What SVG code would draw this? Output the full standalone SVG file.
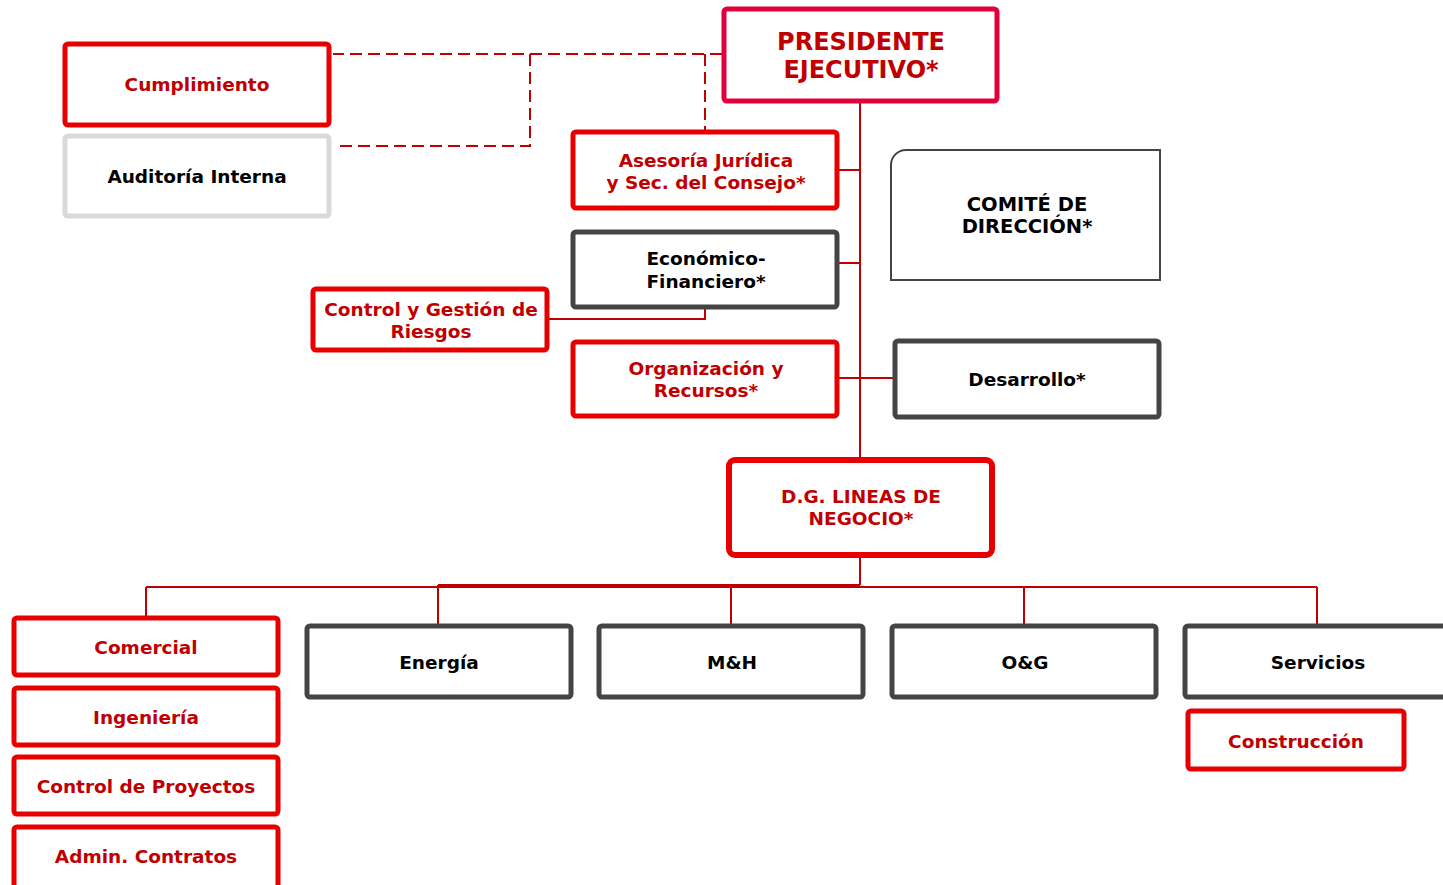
<svg xmlns="http://www.w3.org/2000/svg" width="1443" height="885" viewBox="0 0 1443 885">
  <style>
    .red { fill: #fff; stroke: #e60000; stroke-width: 5; }
    .gray { fill: #fff; stroke: #444; stroke-width: 5; }
    .light { fill: #fff; stroke: #d9d9d9; stroke-width: 5; }
    .thin { fill: #fff; stroke: #444; stroke-width: 2; }
    .t { font-family: "DejaVu Sans", Verdana, sans-serif; font-weight: bold; font-size: 18.5px; text-anchor: middle; }
    .tr { fill: #c00000; }
    .tk { fill: #000; }
    .big { font-size: 24px; }
    .mid { font-size: 19.5px; }
    .conn { fill: none; stroke: #c00000; stroke-width: 2; }
    .dash { fill: none; stroke: #c00000; stroke-width: 2; stroke-dasharray: 12 6; }
  </style>

  <rect width="1443" height="885" fill="#fff"/>

  <g id="connectors">
    <!-- dotted reporting lines -->
    <path class="dash" d="M722 54 H333"/>
    <path class="dash" d="M530 54 V146 H338"/>
    <path class="dash" d="M705 54 V130"/>
    <!-- main spine -->
    <path class="conn" d="M860 103 V457"/>
    <path class="conn" d="M839 170 H860"/>
    <path class="conn" d="M839 263 H860"/>
    <path class="conn" d="M839 378 H893"/>
    <path class="conn" d="M549 319 H705 V309"/>
    <!-- business lines bus -->
    <path class="conn" d="M860 557 V585"/>
    <path class="conn" d="M146 587 H1317"/>
    <path class="conn" d="M438 585 H860"/>
    <path class="conn" d="M146 587 V616"/>
    <path class="conn" d="M438 585 V624"/>
    <path class="conn" d="M731 587 V624"/>
    <path class="conn" d="M1024 587 V624"/>
    <path class="conn" d="M1317 587 V624"/>
  </g>

  <g id="presidente">
    <rect x="724" y="9" width="273" height="92" rx="3" fill="#fff" stroke="#e0003c" stroke-width="5"/>
    <text class="t tr big" x="861" y="50">PRESIDENTE</text>
    <text class="t tr big" x="861" y="78">EJECUTIVO*</text>
  </g>

  <g id="cumplimiento">
    <rect class="red" x="65" y="44" width="264" height="81" rx="3"/>
    <text class="t tr" x="197" y="91">Cumplimiento</text>
  </g>

  <g id="auditoria">
    <rect class="light" x="65" y="136" width="264" height="80" rx="3"/>
    <text class="t tk" x="197" y="183">Auditoría Interna</text>
  </g>

  <g id="asesoria">
    <rect class="red" x="573" y="132" width="264" height="76" rx="3"/>
    <text class="t tr" x="706" y="167">Asesoría Jurídica</text>
    <text class="t tr" x="706" y="189">y Sec. del Consejo*</text>
  </g>

  <g id="comite">
    <path class="thin" d="M906 150 H1160 V280 H891 V165 A15 15 0 0 1 906 150 Z"/>
    <text class="t tk mid" x="1027" y="211">COMITÉ DE</text>
    <text class="t tk mid" x="1027" y="233">DIRECCIÓN*</text>
  </g>

  <g id="economico">
    <rect class="gray" x="573" y="232" width="264" height="75" rx="3"/>
    <text class="t tk" x="706" y="265">Económico-</text>
    <text class="t tk" x="706" y="288">Financiero*</text>
  </g>

  <g id="riesgos">
    <rect class="red" x="313" y="289" width="234" height="61" rx="3"/>
    <text class="t tr" x="431" y="316">Control y Gestión de</text>
    <text class="t tr" x="431" y="338">Riesgos</text>
  </g>

  <g id="organizacion">
    <rect class="red" x="573" y="342" width="264" height="74" rx="3"/>
    <text class="t tr" x="706" y="375">Organización y</text>
    <text class="t tr" x="706" y="397">Recursos*</text>
  </g>

  <g id="desarrollo">
    <rect class="gray" x="895" y="341" width="264" height="76" rx="3"/>
    <text class="t tk" x="1027" y="386">Desarrollo*</text>
  </g>

  <g id="dg-lineas">
    <rect x="729" y="460" width="263" height="95" rx="6" fill="#fff" stroke="#e60000" stroke-width="6"/>
    <text class="t tr" x="861" y="503">D.G. LINEAS DE</text>
    <text class="t tr" x="861" y="525">NEGOCIO*</text>
  </g>

  <g id="comercial">
    <rect class="red" x="14" y="618" width="264" height="57" rx="3"/>
    <text class="t tr" x="146" y="654">Comercial</text>
  </g>

  <g id="ingenieria">
    <rect class="red" x="14" y="688" width="264" height="57" rx="3"/>
    <text class="t tr" x="146" y="724">Ingeniería</text>
  </g>

  <g id="control-proyectos">
    <rect class="red" x="14" y="757" width="264" height="57" rx="3"/>
    <text class="t tr" x="146" y="793">Control de Proyectos</text>
  </g>

  <g id="admin-contratos">
    <rect class="red" x="14" y="827" width="264" height="70" rx="3"/>
    <text class="t tr" x="146" y="863">Admin. Contratos</text>
  </g>

  <g id="energia">
    <rect class="gray" x="307" y="626" width="264" height="71" rx="3"/>
    <text class="t tk" x="439" y="669">Energía</text>
  </g>

  <g id="mh">
    <rect class="gray" x="599" y="626" width="264" height="71" rx="3"/>
    <text class="t tk" x="732" y="669">M&amp;H</text>
  </g>

  <g id="og">
    <rect class="gray" x="892" y="626" width="264" height="71" rx="3"/>
    <text class="t tk" x="1025" y="669">O&amp;G</text>
  </g>

  <g id="servicios">
    <rect class="gray" x="1185" y="626" width="270" height="71" rx="3"/>
    <text class="t tk" x="1318" y="669">Servicios</text>
  </g>

  <g id="construccion">
    <rect class="red" x="1188" y="711" width="216" height="58" rx="3"/>
    <text class="t tr" x="1296" y="748">Construcción</text>
  </g>
</svg>
